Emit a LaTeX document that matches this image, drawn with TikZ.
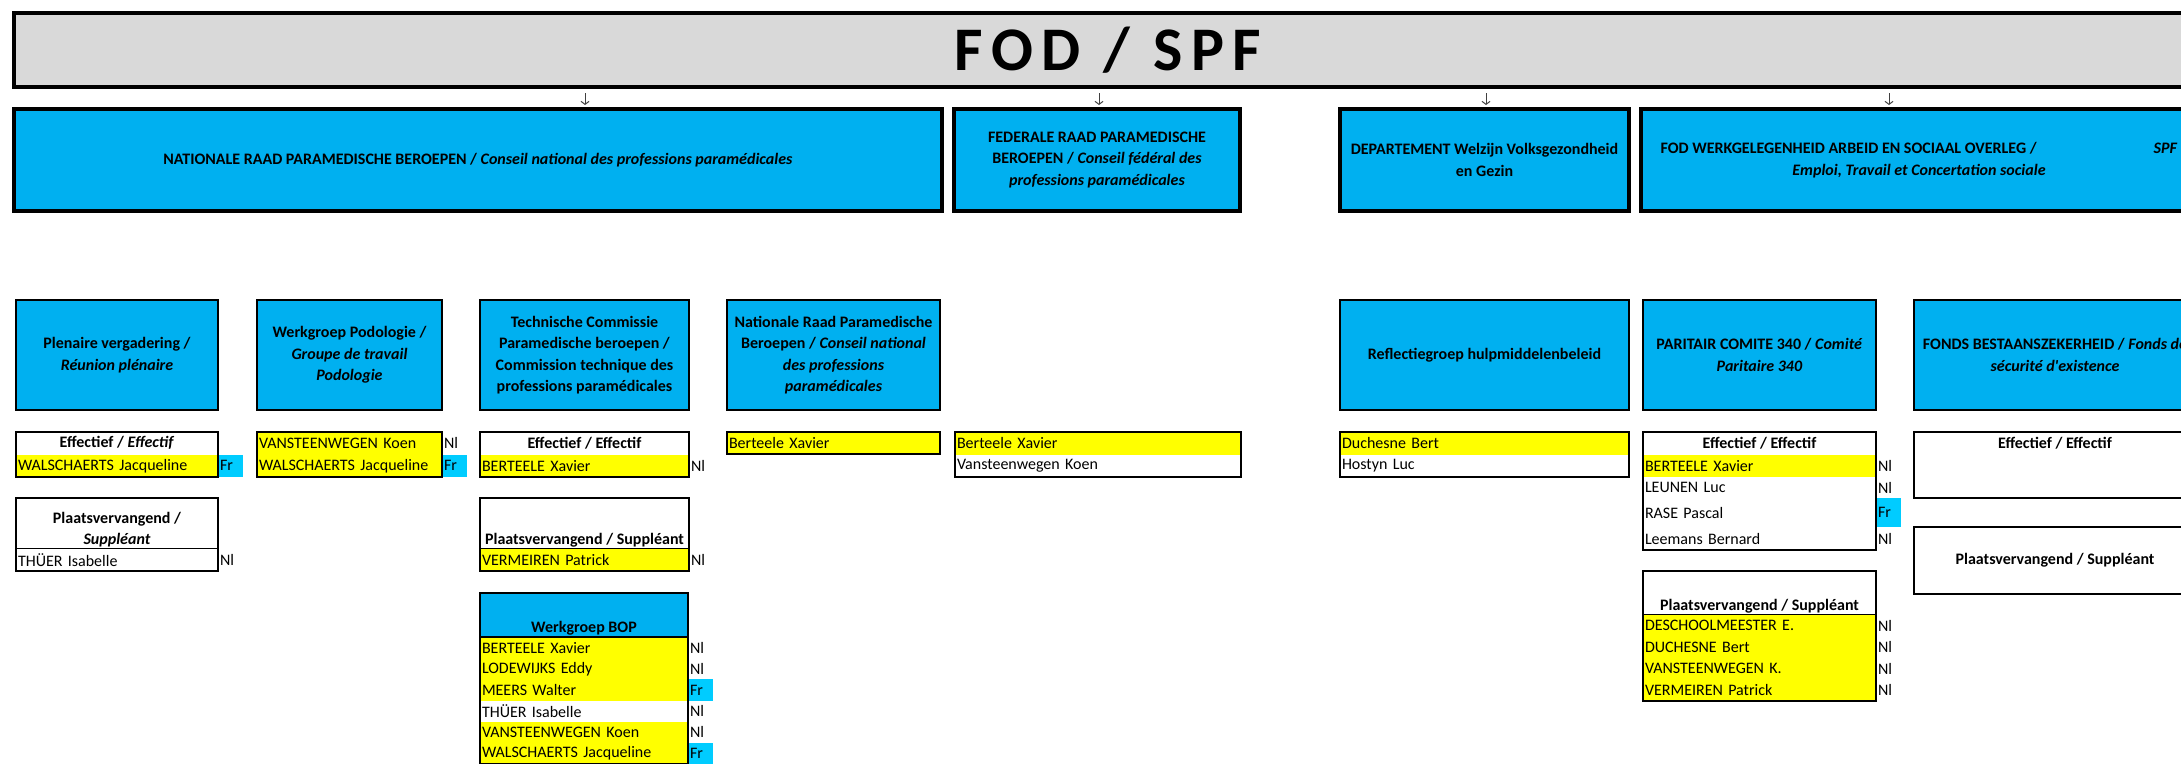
\documentclass[tikz,border=0pt]{standalone}
\usepackage{fontspec}
\setmainfont{Carlito}
\newfontfamily\titelfont[LetterSpace=14]{Carlito}
\usetikzlibrary{positioning,arrows.meta}
\definecolor{blauw}{HTML}{00B0F0}
\definecolor{frblauw}{HTML}{00CCFF}
\definecolor{geel}{HTML}{FFFF00}
\definecolor{grijs}{HTML}{D9D9D9}
\definecolor{pijl}{HTML}{404040}
\newcommand{\celfont}{\fontsize{16}{21.5}\selectfont}
\tikzset{
  hoofd/.style={draw, line width=4pt, fill=blauw, align=center, anchor=north west, minimum height=102pt, font=\celfont\bfseries},
  sub/.style={draw, line width=2.5pt, fill=blauw, align=center, anchor=north west, minimum height=110pt, font=\celfont\bfseries},
  kop/.style={minimum width=#1, align=center, minimum height=22.5pt, fill=white, anchor=north west, font=\celfont\bfseries},
  onder/.style={label={[anchor=south, yshift=1.5pt, align=center, font=\celfont\bfseries]south:#1}},
  naam/.style={text width=#1, align=left, minimum height=21.5pt, anchor=north west, execute at begin node=\hspace*{2pt}},
  taal/.style={text width=25pt, align=left, minimum height=21.5pt, anchor=west, execute at begin node=\hspace*{2pt}},
  Nl/.style={}, Fr/.style={fill=frblauw},
  kader/.style={line width=2.5pt},
  pijlstijl/.style={pijl, line width=1pt, -{Straight Barb[length=3pt,width=8pt]}, shorten <=6pt, shorten >=4pt}
}
\begin{document}
\begin{tikzpicture}[x=1pt, y=-1pt, every node/.style={inner sep=0pt, outer sep=0pt, font=\celfont}]
\useasboundingbox (0,0) rectangle (2181,763);
\clip (0,0) rectangle (2181,763);

\node[draw, line width=4pt, fill=grijs, anchor=north west, minimum width=2188pt, minimum height=74pt, font=\titelfont\fontsize{62}{70}\selectfont\bfseries] (fod) at (14,13) {FOD / SPF};

\node[hoofd, minimum width=928pt] (nrpb) at (14,109) {NATIONALE RAAD PARAMEDISCHE BEROEPEN / \textit{Conseil national des professions paramédicales}};
\node[hoofd, minimum width=286pt] (frpb) at (954,109) {FEDERALE RAAD PARAMEDISCHE\\BEROEPEN / \textit{Conseil fédéral des}\\\textit{professions paramédicales}};
\node[hoofd, minimum width=289pt] (dept) at (1340,109) {DEPARTEMENT Welzijn Volksgezondheid\\en Gezin};
\node[hoofd, minimum width=556pt] (fodwao) at (1641,109) {FOD WERKGELEGENHEID ARBEID EN SOCIAAL OVERLEG /\hspace{117pt}\textit{SPF}\\\textit{Emploi, Travail et Concertation sociale}};

\foreach \x/\doel in {585/nrpb, 1099/frpb, 1486/dept, 1889/fodwao}{
  \coordinate (p\x) at (\x,0);
  \draw[pijlstijl] (p\x |- fod.south) -- (p\x |- \doel.north);
}

\node[sub, minimum width=202pt] (plen) at (16,300) {Plenaire vergadering /\\\textit{Réunion plénaire}};
\node[sub, minimum width=185pt] (podo) at (257,300) {Werkgroep Podologie /\\\textit{Groupe de travail}\\\textit{Podologie}};
\node[sub, minimum width=209pt] (tech) at (480,300) {Technische Commissie\\Paramedische beroepen /\\Commission technique des\\professions paramédicales};
\node[sub, minimum width=213pt] (nrpbraad) at (727,300) {Nationale Raad Paramedische\\Beroepen / \textit{Conseil national}\\\textit{des professions}\\\textit{paramédicales}};
\node[sub, minimum width=289pt] (refl) at (1340,300) {Reflectiegroep hulpmiddelenbeleid};
\node[sub, minimum width=233pt] (pc) at (1643,300) {PARITAIR COMITE 340 / \textit{Comité}\\\textit{Paritaire 340}};
\node[sub, minimum width=282pt] (fbz) at (1914,300) {FONDS BESTAANSZEKERHEID / \textit{Fonds de}\\\textit{sécurité d\textquotesingle existence}};

% plenaire
\node[kop=202pt] (plenE0) at (16,432) {Effectief / \textit{Effectif}};
\node[naam=202pt, fill=geel, minimum height=22.5pt, below=0pt of plenE0] (plenE1) {WALSCHAERTS Jacqueline};
\node[taal, Fr, minimum height=22.5pt, right=0pt of plenE1] {Fr};
\draw[kader] (plenE0.north west) rectangle (plenE1.south east);
\node[kop=202pt, draw, line width=2.5pt, minimum height=51pt, onder={Plaatsvervangend /\\\textit{Suppléant}}] (plenP0) at (16,498) {};
\node[naam=202pt, fill=white, minimum height=22pt, below=0pt of plenP0] (plenP1) {THÜER Isabelle};
\node[taal, Nl, minimum height=22pt, right=0pt of plenP1] {Nl};
\draw[kader] (plenP0.north west) rectangle (plenP1.south east);

% podologie
\node[naam=185pt, fill=geel, minimum height=22.5pt] (podoE1) at (257,432) {VANSTEENWEGEN Koen};
\node[naam=185pt, fill=geel, minimum height=22.5pt, below=0pt of podoE1] (podoE2) {WALSCHAERTS Jacqueline};
\node[taal, Nl, minimum height=22.5pt, right=0pt of podoE1] {Nl};
\node[taal, Fr, minimum height=22.5pt, right=0pt of podoE2] {Fr};
\draw[kader] (podoE1.north west) rectangle (podoE2.south east);

% technische commissie
\node[kop=209pt] (techE0) at (480,432) {Effectief / Effectif};
\node[naam=209pt, fill=geel, minimum height=22.5pt, below=0pt of techE0] (techE1) {BERTEELE Xavier};
\node[taal, Nl, minimum height=22.5pt, right=0pt of techE1] {Nl};
\draw[kader] (techE0.north west) rectangle (techE1.south east);
\node[kop=209pt, draw, line width=2.5pt, minimum height=51pt, onder={Plaatsvervangend / Suppléant}] (techP0) at (480,498) {};
\node[naam=209pt, fill=geel, minimum height=22pt, below=0pt of techP0] (techP1) {VERMEIREN Patrick};
\node[taal, Nl, minimum height=22pt, right=0pt of techP1] {Nl};
\draw[kader] (techP0.north west) rectangle (techP1.south east);

\node[sub, minimum width=208pt, minimum height=44pt, onder={Werkgroep BOP}] (bop0) at (480,593) {};
\foreach \nm/\kl/\lg [count=\i, remember=\i as \j (initially 0)] in {BERTEELE Xavier/geel/Nl, LODEWIJKS Eddy/geel/Nl, MEERS Walter/geel/Fr, THÜER Isabelle/white/Nl, VANSTEENWEGEN Koen/geel/Nl, WALSCHAERTS Jacqueline/geel/Fr}{
  \node[naam=208pt, fill=\kl, minimum height=21.2pt, below=0pt of bop\j] (bop\i) {\nm};
  \node[taal, \lg, minimum height=21.2pt, right=0pt of bop\i] {\lg};
}
\draw[kader] (bop0.south west) rectangle (bop6.south east);

% nationale raad, federale raad, reflectiegroep
\node[naam=213pt, fill=geel, minimum height=22pt, draw, line width=2.5pt] (nrpbE1) at (727,432) {Berteele Xavier};
\node[naam=286pt, fill=geel, minimum height=22.5pt] (frpbE1) at (955,432) {Berteele Xavier};
\node[naam=286pt, fill=white, minimum height=22.5pt, below=0pt of frpbE1] (frpbE2) {Vansteenwegen Koen};
\draw[kader] (frpbE1.north west) rectangle (frpbE2.south east);
\node[naam=289pt, fill=geel, minimum height=22.5pt] (reflE1) at (1340,432) {Duchesne Bert};
\node[naam=289pt, fill=white, minimum height=22.5pt, below=0pt of reflE1] (reflE2) {Hostyn Luc};
\draw[kader] (reflE1.north west) rectangle (reflE2.south east);

% paritair comite
\node[kop=233pt, minimum height=23pt] (pcE0) at (1643,432) {Effectief / Effectif};
\foreach \nm/\kl/\lg/\h [count=\i, remember=\i as \j (initially 0)] in {BERTEELE Xavier/geel/Nl/22pt, LEUNEN Luc/white/Nl/21pt, RASE Pascal/white/Fr/29pt, Leemans Bernard/white/Nl/23pt}{
  \node[naam=233pt, fill=\kl, minimum height=\h, below=0pt of pcE\j] (pcE\i) {\nm};
  \node[taal, \lg, minimum height=\h, right=0pt of pcE\i] {\lg};
}
\draw[kader] (pcE0.north west) rectangle (pcE4.south east);
\node[kop=233pt, draw, line width=2.5pt, minimum height=44pt, onder={Plaatsvervangend / Suppléant}] (pcP0) at (1643,571) {};
\foreach \nm [count=\i, remember=\i as \j (initially 0)] in {DESCHOOLMEESTER E., DUCHESNE Bert, VANSTEENWEGEN K., VERMEIREN Patrick}{
  \node[naam=233pt, fill=geel, below=0pt of pcP\j] (pcP\i) {\nm};
  \node[taal, Nl, right=0pt of pcP\i] {Nl};
}
\draw[kader] (pcP0.north west) rectangle (pcP4.south east);

% fonds bestaanszekerheid
\node[kop=282pt] (fbzE0) at (1914,432) {Effectief / Effectif};
\draw[kader] (fbzE0.north west) rectangle ++(282,66);
\node[kop=282pt, draw, line width=2.5pt, minimum height=67pt] (fbzP0) at (1914,527) {Plaatsvervangend / Suppléant};
\end{tikzpicture}
\end{document}
